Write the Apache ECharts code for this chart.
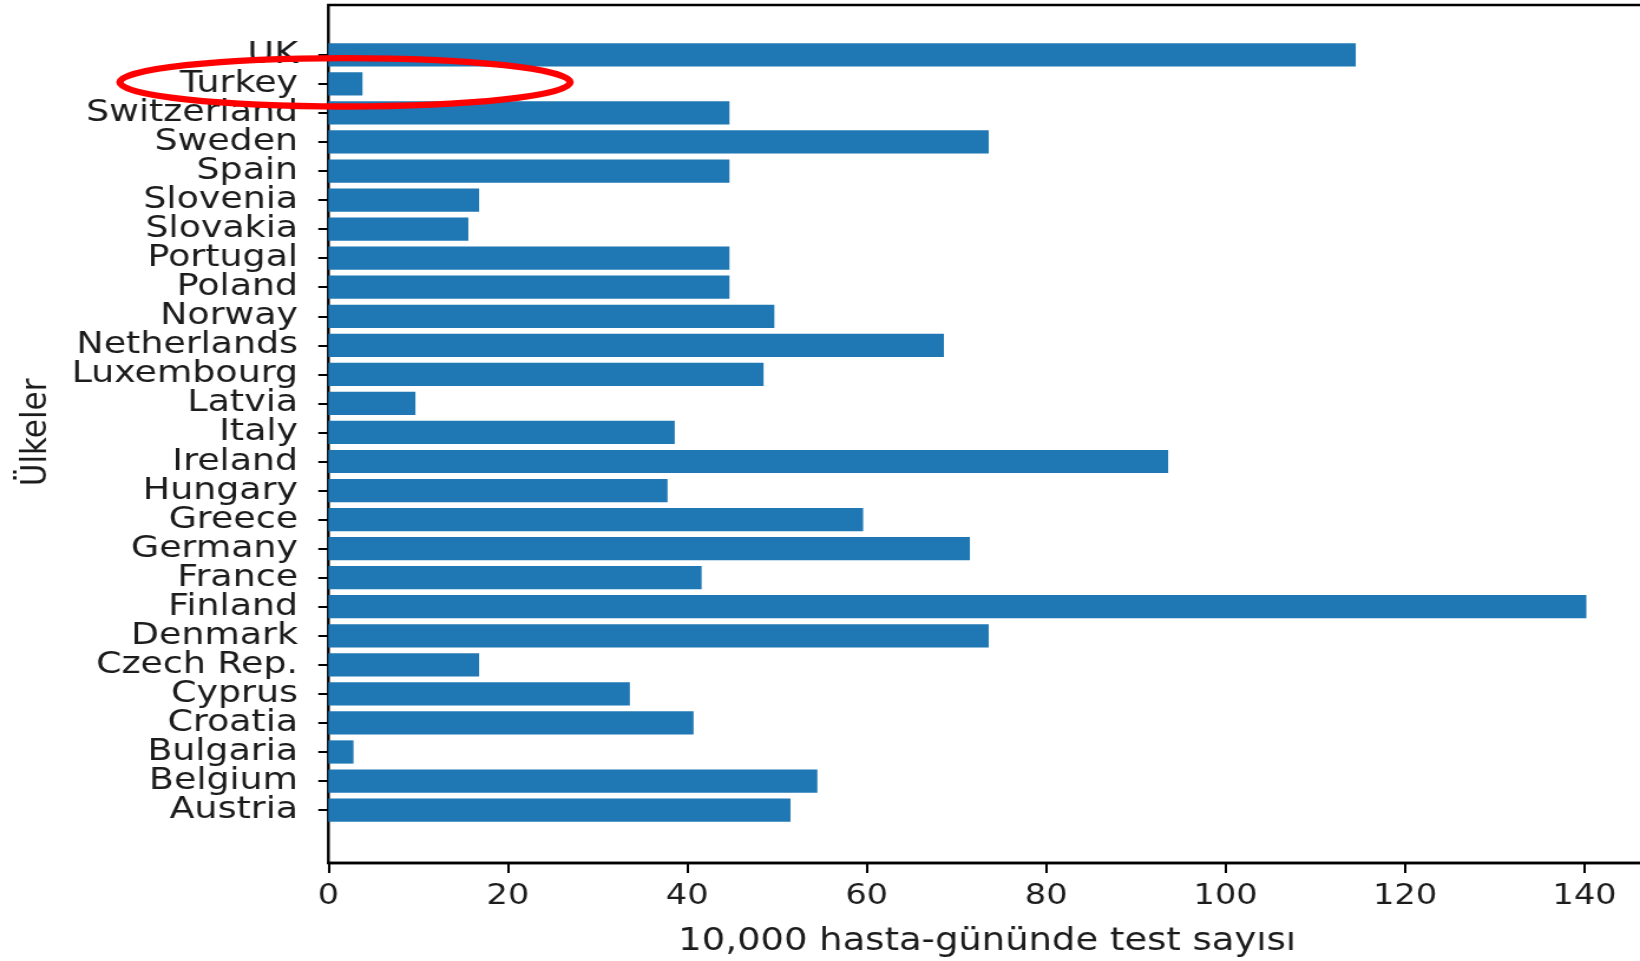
<!DOCTYPE html>
<html>
<head>
<meta charset="utf-8">
<script src="https://cdn.jsdelivr.net/npm/echarts@6/dist/echarts.min.js"></script>
<style>
html,body{margin:0;padding:0;background:#fff;overflow:hidden;width:1640px;height:961px;}
#chart{width:1390px;height:961px;transform:scaleX(1.179856);transform-origin:0 0;}
</style>
</head>
<body>
<div id="chart"></div>
<script>
// Categories bottom-to-top (matplotlib barh order)
const countries = ['Austria','Belgium','Bulgaria','Croatia','Cyprus','Czech Rep.','Denmark','Finland','France','Germany','Greece','Hungary','Ireland','Italy','Latvia','Luxembourg','Netherlands','Norway','Poland','Portugal','Slovakia','Slovenia','Spain','Sweden','Switzerland','Turkey','UK'];
const testsPer10k = [51.5,54.5,2.8,40.7,33.6,16.8,73.6,140.2,41.6,71.5,59.6,37.8,93.6,38.6,9.7,48.5,68.6,49.7,44.7,44.7,15.6,16.8,44.7,73.6,44.7,3.8,114.5];
const xTicks = [0,20,40,60,80,100,120,140];
const xLabel = '10,000 hasta-gününde test sayısı';
const yLabel = 'Ülkeler';

const FONT = 'DejaVu Sans';
const FS_CAT = 30.8;
const FS_TICK = 28.5;
const FS_NAME = 31.3;
const FS_YNAME = 31;
const TXT = '#1c1c1c';
const xMax = 146.84;

const chart = echarts.init(document.getElementById('chart'), null, {renderer:'canvas', width:1390, height:961});
chart.setOption({
  animation:false,
  backgroundColor:'#ffffff',
  textStyle:{fontFamily:FONT},
  grid:[
    {left:278.3, right:-5, top:5, bottom:98, show:true, borderColor:'#000', borderWidth:2.4,
     backgroundColor:'transparent', outerBoundsMode:'none', containLabel:false},
    {left:278.3, right:-5, top:40.3, bottom:136.4, outerBoundsMode:'none', containLabel:false}
  ],
  xAxis:[
    {type:'value', gridIndex:0, min:0, max:xMax, interval:20,
     axisLine:{show:true, lineStyle:{color:'#000', width:2.4}},
     axisTick:{show:true, inside:false, length:10, lineStyle:{color:'#000', width:2}},
     axisLabel:{show:true, fontSize:FS_TICK, color:TXT, fontFamily:FONT, margin:19,
       showMaxLabel:false, formatter:function(v){ return xTicks.indexOf(v) >= 0 ? String(v) : ''; }},
     splitLine:{show:false},
     name:xLabel, nameLocation:'middle', nameGap:63.5,
     nameTextStyle:{fontSize:FS_NAME, color:TXT, fontFamily:FONT}},
    {type:'value', gridIndex:1, min:0, max:xMax, show:false, splitLine:{show:false}}
  ],
  yAxis:[
    {type:'value', gridIndex:0, min:0, max:1, show:false, splitLine:{show:false}},
    {type:'category', gridIndex:1, data:countries,
     axisLine:{show:false},
     axisTick:{show:true, alignWithLabel:true, length:8.5, lineStyle:{color:'#000', width:2}},
     axisLabel:{fontSize:FS_CAT, color:TXT, fontFamily:FONT, margin:25.7, interval:0, padding:[10,0,0,0]},
     splitLine:{show:false},
     name:yLabel, nameLocation:'middle', nameRotate:90, nameGap:232,
     nameTextStyle:{fontSize:FS_YNAME, color:TXT, fontFamily:FONT}}
  ],
  series:[{
    type:'bar', xAxisIndex:1, yAxisIndex:1, data:testsPer10k,
    barWidth:'80%', itemStyle:{color:'#1f77b4'}
  }],
  graphic:[{
    type:'ellipse',
    shape:{cx:292.4, cy:82.3, rx:190.8, ry:24.2},
    style:{fill:'none', stroke:'#ff0000', lineWidth:6.3},
    z:100
  }]
});
</script>
</body>
</html>
